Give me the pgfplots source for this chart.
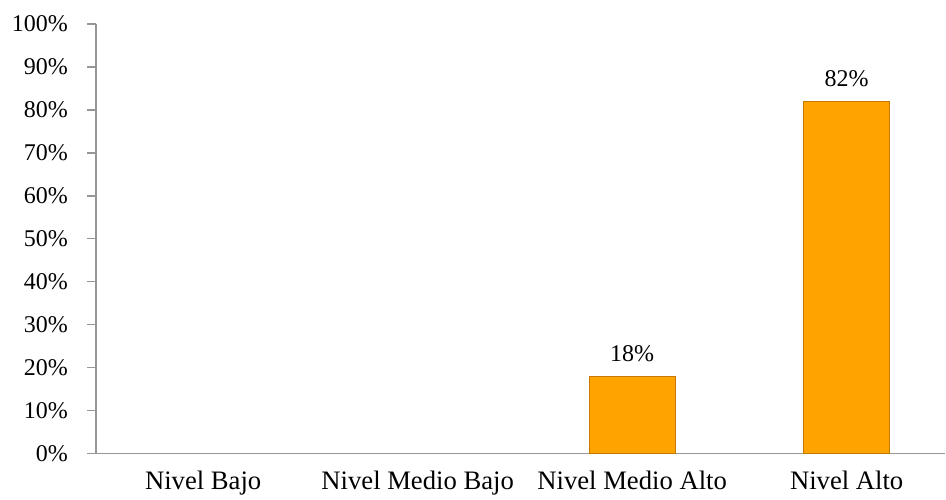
\documentclass[border=0pt]{standalone}
\usepackage{pgfplots}
\pgfplotsset{compat=1.18}
\usepackage{fontspec}
\setmainfont{Liberation Serif}
\definecolor{barfill}{RGB}{255,163,0}
\definecolor{baredge}{RGB}{200,122,0}
\definecolor{axgray}{RGB}{150,150,150}
\begin{document}
\begin{tikzpicture}
\begin{axis}[
  name=ax,
  scale only axis,
  width=637.5pt, height=322.5pt,
  xmin=-0.5, xmax=3.46,
  ymin=0, ymax=100,
  axis x line*=bottom, axis y line*=left,
  axis line style={draw=axgray, line width=1pt, -},
  tick align=outside,
  /pgf/number format/assume math mode=true,
  ytick={0,10,...,100},
  yticklabels={0\%,10\%,20\%,30\%,40\%,50\%,60\%,70\%,80\%,90\%,100\%},
  yticklabel style={font=\fontsize{18}{20}\selectfont, xshift=-11pt},
  ytick style={draw=axgray, line width=1pt},
  major tick length=6.5pt,
  xtick={0,1,2,3},
  xticklabels={Nivel Bajo, Nivel Medio Bajo, Nivel Medio Alto, Nivel Alto},
  xticklabel style={font=\fontsize{20}{22}\selectfont, yshift=-3pt},
  xtick style={draw=none},
  minor xtick={-0.5,0.5,1.5,2.5},
  minor tick length=6pt,
  minor tick style={draw=axgray, line width=1pt},
  clip=false,
  ybar, bar width=64.5pt,
  nodes near coords={\pgfmathprintnumber[assume math mode=true]{\pgfplotspointmeta}\%},
  every node near coord/.append style={font=\fontsize{18}{20}\selectfont, yshift=7pt, text=black},
]
\addplot[fill=barfill, draw=baredge, line width=0.8pt] coordinates {(2,18) (3,82)};
\end{axis}
\useasboundingbox ([xshift=-72pt,yshift=-33.75pt]ax.south west) rectangle ([yshift=18pt]ax.north east);
\end{tikzpicture}
\end{document}
